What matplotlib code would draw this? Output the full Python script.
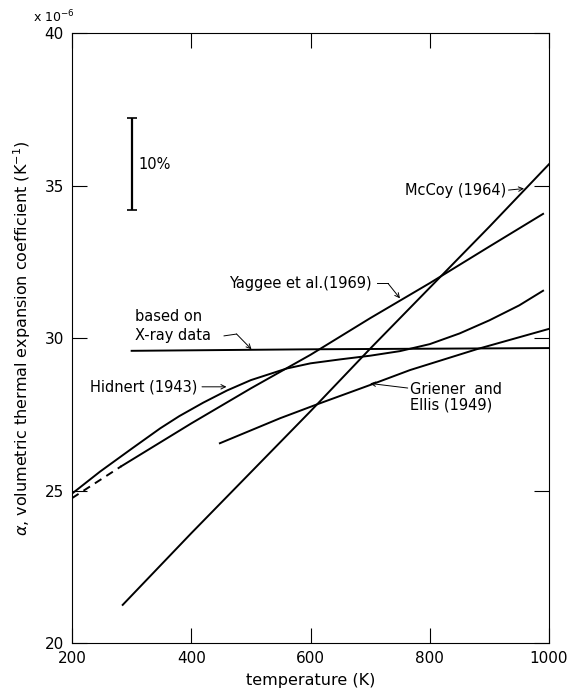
import matplotlib.pyplot as plt

plt.rcParams["font.family"] = ["DejaVu Sans"]

# readings (temperature K, alpha x 1e-6 per K)
mccoy_t = [285, 400, 500, 600, 700, 800, 900, 1000]
mccoy_a = [21.25, 23.6, 25.6, 27.6, 29.65, 31.65, 33.65, 35.7]

yaggee_t = [283, 400, 500, 600, 700, 800, 900, 990]
yaggee_a = [25.8, 27.2, 28.35, 29.45, 30.65, 31.8, 33.0, 34.07]
yaggee_dash_t = [200, 283]
yaggee_dash_a = [24.75, 25.8]

hidnert_t = [200, 208, 247, 300, 348, 380, 420, 460, 500, 560, 600, 650, 700,
             750, 800, 850, 900, 950, 990]
hidnert_a = [24.9, 25.02, 25.62, 26.37, 27.04, 27.44, 27.88, 28.28, 28.62, 29.0,
             29.17, 29.3, 29.42, 29.57, 29.8, 30.15, 30.58, 31.07, 31.55]

griener_t = [448, 549, 613, 700, 767, 880, 1000]
griener_a = [26.55, 27.37, 27.84, 28.46, 28.95, 29.64, 30.3]

xray_t = [300, 600, 1000]
xray_a = [29.58, 29.63, 29.67]

fig = plt.figure(figsize=(5.68, 6.95), dpi=100)
ax = fig.add_axes([0.1268, 0.0748, 0.8398, 0.8777])

lw = 1.4
ax.plot(mccoy_t, mccoy_a, color="black", lw=lw)
ax.plot(yaggee_t, yaggee_a, color="black", lw=lw)
ax.plot(yaggee_dash_t, yaggee_dash_a, color="black", lw=lw, ls=(0, (4, 3)))
ax.plot(hidnert_t, hidnert_a, color="black", lw=lw)
ax.plot(griener_t, griener_a, color="black", lw=lw)
ax.plot(xray_t, xray_a, color="black", lw=lw)

# 10% bar
ax.errorbar([300], [35.7], yerr=[[1.5], [1.5]], color="black", lw=1.6, capsize=3.3,
            capthick=1.2)
ax.text(311, 35.7, "10%", fontsize=10.5, va="center", ha="left")

fs = 10.5
arr = dict(arrowstyle="->", color="black", lw=0.7, shrinkA=0, shrinkB=0,
           mutation_scale=8)

ax.text(928, 34.85, "McCoy (1964)", ha="right", va="center", fontsize=fs)
ax.annotate("", xy=(958, 34.9), xytext=(932, 34.85), arrowprops=arr)

ax.text(703, 31.79, "Yaggee et al.(1969)", ha="right", va="center", fontsize=fs)
ax.plot([711, 730], [31.79, 31.79], color="black", lw=0.7)
ax.annotate("", xy=(750, 31.3), xytext=(730, 31.79), arrowprops=arr)

ax.text(305, 30.69, "based on", ha="left", va="center", fontsize=fs)
ax.text(305, 30.07, "X-ray data", ha="left", va="center", fontsize=fs)
ax.plot([455, 476], [30.07, 30.13], color="black", lw=0.7)
ax.annotate("", xy=(501, 29.63), xytext=(476, 30.13), arrowprops=arr)

ax.text(230, 28.4, "Hidnert (1943)", ha="left", va="center", fontsize=fs)
ax.annotate("", xy=(459, 28.4), xytext=(418, 28.4), arrowprops=arr)

ax.text(767, 28.32, "Griener  and", ha="left", va="center", fontsize=fs)
ax.text(767, 27.8, "Ellis (1949)", ha="left", va="center", fontsize=fs)
ax.annotate("", xy=(700, 28.51), xytext=(763, 28.36), arrowprops=arr)

ax.set_xlim(200, 1000)
ax.set_ylim(20, 40)
ax.set_xticks([200, 400, 600, 800, 1000])
ax.set_yticks([20, 25, 30, 35, 40])
ax.tick_params(direction="in", length=11, width=0.8, top=True, right=True,
               labelsize=11, pad=6)
for s in ax.spines.values():
    s.set_linewidth(0.8)

ax.set_xlabel("temperature (K)", fontsize=11.5, labelpad=5)
ax.set_ylabel(r"$\alpha$, volumetric thermal expansion coefficient (K$^{-1}$)",
              fontsize=11.5, labelpad=8)
fig.text(33 / 568, 1 - 17 / 695, r"x 10$^{-6}$", fontsize=9, ha="left", va="center")

fig.savefig("out.png", dpi=100)
